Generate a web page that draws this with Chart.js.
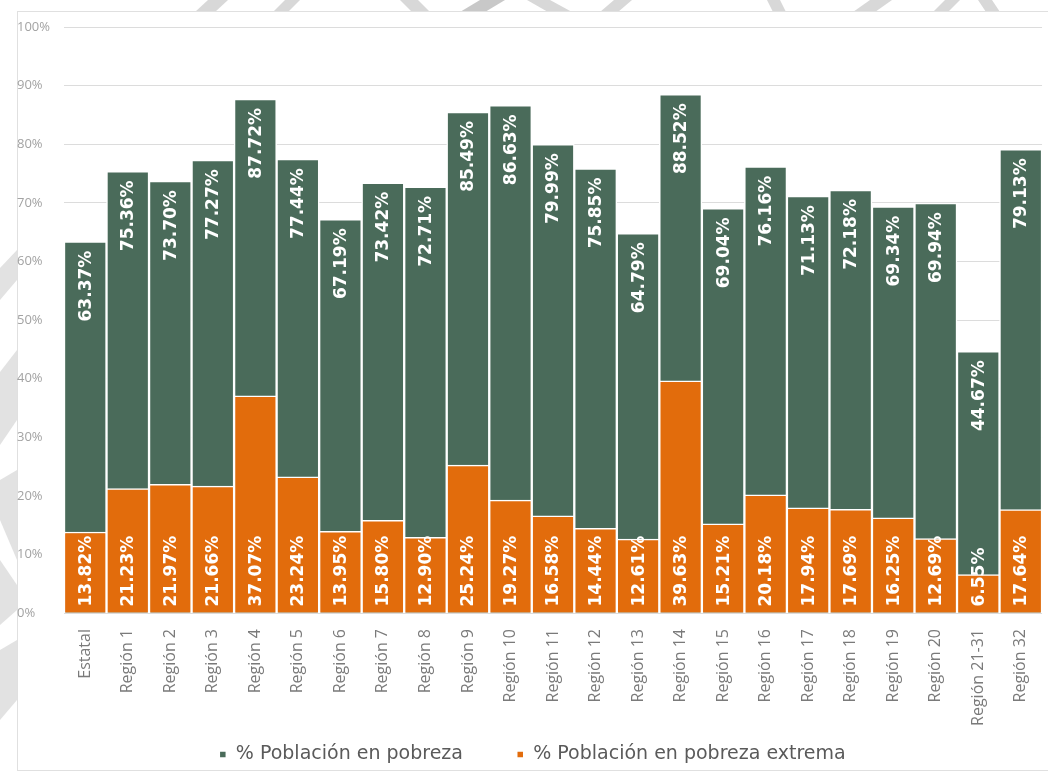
<!DOCTYPE html>
<html>
<head>
<meta charset="utf-8">
<script src="https://cdn.jsdelivr.net/npm/chart.js@4/dist/chart.umd.min.js"></script>
<style>
  html, body { margin: 0; padding: 0; background: #fff; }
  #wrap { position: relative; width: 1048px; height: 774px; overflow: hidden; background: #fff; }
  #marks { position: absolute; left: 0; top: 0; }
  #frame { position: absolute; left: 17px; top: 11px; width: 1100px; height: 758px; border: 1px solid #e0e0e0; background: #fff; }
  #wrap canvas { position: absolute; left: 0; top: 0; }
</style>
</head>
<body>
<div id="wrap">
  <svg id="marks" width="1048" height="774">
    <g fill="#d8d8d8">
      <polygon points="195,12 215,12 228,0 208,0"/>
      <polygon points="273,12 288,12 300,0 285,0"/>
      <polygon points="400,0 418,0 430,12 412,12"/>
      <polygon points="460,12 485,12 505,0 480,0" fill="#c8c8c8"/>
      <polygon points="527,0 550,0 572,12 548,12"/>
      <polygon points="600,12 618,12 632,0 614,0"/>
      <polygon points="767,0 780,0 786,12 773,12"/>
      <polygon points="853,12 875,12 892,0 870,0"/>
      <polygon points="933,12 948,12 960,0 945,0"/>
      <polygon points="978,0 992,0 1000,12 986,12"/>
    </g>
    <g fill="#e2e2e2">
      <polygon points="0,268 17,250 17,280 0,300"/>
      <polygon points="0,372 17,350 17,420 0,445"/>
      <polygon points="0,480 17,470 17,560 0,520"/>
      <polygon points="0,560 17,585 17,610 0,625"/>
      <polygon points="0,650 17,640 17,700 0,720"/>
    </g>
  </svg>
  <div id="frame"></div>
  <canvas id="povertyChart" width="1048" height="774"></canvas>
</div>
<script>
const categories = ['Estatal', 'Región 1', 'Región 2', 'Región 3', 'Región 4', 'Región 5', 'Región 6',
  'Región 7', 'Región 8', 'Región 9', 'Región 10', 'Región 11', 'Región 12', 'Región 13', 'Región 14',
  'Región 15', 'Región 16', 'Región 17', 'Región 18', 'Región 19', 'Región 20', 'Región 21-31', 'Región 32'];
const pobreza = [63.37, 75.36, 73.70, 77.27, 87.72, 77.44, 67.19, 73.42, 72.71, 85.49, 86.63, 79.99,
  75.85, 64.79, 88.52, 69.04, 76.16, 71.13, 72.18, 69.34, 69.94, 44.67, 79.13];
const pobrezaExtrema = [13.82, 21.23, 21.97, 21.66, 37.07, 23.24, 13.95, 15.80, 12.90, 25.24, 19.27, 16.58,
  14.44, 12.61, 39.63, 15.21, 20.18, 17.94, 17.69, 16.25, 12.69, 6.55, 17.64];
const yTicks = [0, 10, 20, 30, 40, 50, 60, 70, 80, 90, 100];

const GREEN = '#4a6b5a';
const ORANGE = '#e26c0c';

// rotated value labels inside the bars
const barLabels = {
  id: 'barLabels',
  afterDatasetsDraw(chart) {
    const ctx = chart.ctx;
    ctx.save();
    ctx.fillStyle = '#fff';
    ctx.font = 'bold 17px "DejaVu Sans"';
    ctx.textBaseline = 'middle';
    chart.data.datasets.forEach((ds, i) => {
      const meta = chart.getDatasetMeta(i);
      meta.data.forEach((bar, j) => {
        const text = ds.data[j].toFixed(2) + '%';
        ctx.save();
        if (i === 0) {
          ctx.translate(bar.x, bar.y + 9);
          ctx.rotate(-Math.PI / 2);
          ctx.textAlign = 'right';
        } else {
          ctx.translate(bar.x, bar.base - 6);
          ctx.rotate(-Math.PI / 2);
          ctx.textAlign = 'left';
        }
        ctx.fillText(text, 0, 1);
        ctx.restore();
      });
    });
    ctx.restore();
  }
};

new Chart(document.getElementById('povertyChart').getContext('2d'), {
  type: 'bar',
  data: {
    labels: categories,
    datasets: [{
      label: '% Población en pobreza',
      data: pobreza,
      backgroundColor: GREEN,
      borderColor: '#fff',
      borderWidth: 1.5,
      grouped: false,
      order: 1
    }, {
      label: '% Población en pobreza extrema',
      data: pobrezaExtrema,
      backgroundColor: ORANGE,
      borderColor: '#fff',
      borderWidth: 1.5,
      grouped: false,
      order: 0
    }]
  },
  options: {
    responsive: false,
    animation: false,
    barPercentage: 1,
    categoryPercentage: 1,
    layout: { padding: { left: 17, top: 27, right: 0, bottom: 0 } },
    scales: {
      x: {
        afterFit(scale) { scale.height = 120; },
        grid: { display: false },
        border: { display: false },
        ticks: {
          minRotation: 90,
          maxRotation: 90,
          autoSkip: false,
          padding: 8,
          color: '#7a7a7a',
          font: { family: 'Open Sans', size: 16 }
        }
      },
      y: {
        min: 0,
        max: 100,
        afterFit(scale) { scale.width = 47; },
        afterBuildTicks(scale) { scale.ticks = yTicks.map(v => ({ value: v })); },
        grid: { color: '#dcdcdc', drawTicks: false },
        border: { display: false },
        ticks: {
          crossAlign: 'far',
          padding: 8,
          color: '#a3a3a3',
          font: { family: 'Open Sans', size: 13 },
          callback: v => v + '%'
        }
      }
    },
    plugins: {
      tooltip: { enabled: false },
      legend: {
        position: 'bottom',
        labels: {
          boxWidth: 7,
          boxHeight: 7,
          padding: 12,
          color: '#5a5a5a',
          font: { family: 'DejaVu Sans', size: 19 },
          sort: (a, b) => a.datasetIndex - b.datasetIndex,
          generateLabels(chart) {
            const items = Chart.defaults.plugins.legend.labels.generateLabels(chart);
            items.forEach(it => {
              if (it.datasetIndex === 0) it.text = it.text + '\u2003\u2003\u2009';
            });
            return items;
          }
        }
      }
    }
  },
  plugins: [barLabels]
});
</script>
</body>
</html>
